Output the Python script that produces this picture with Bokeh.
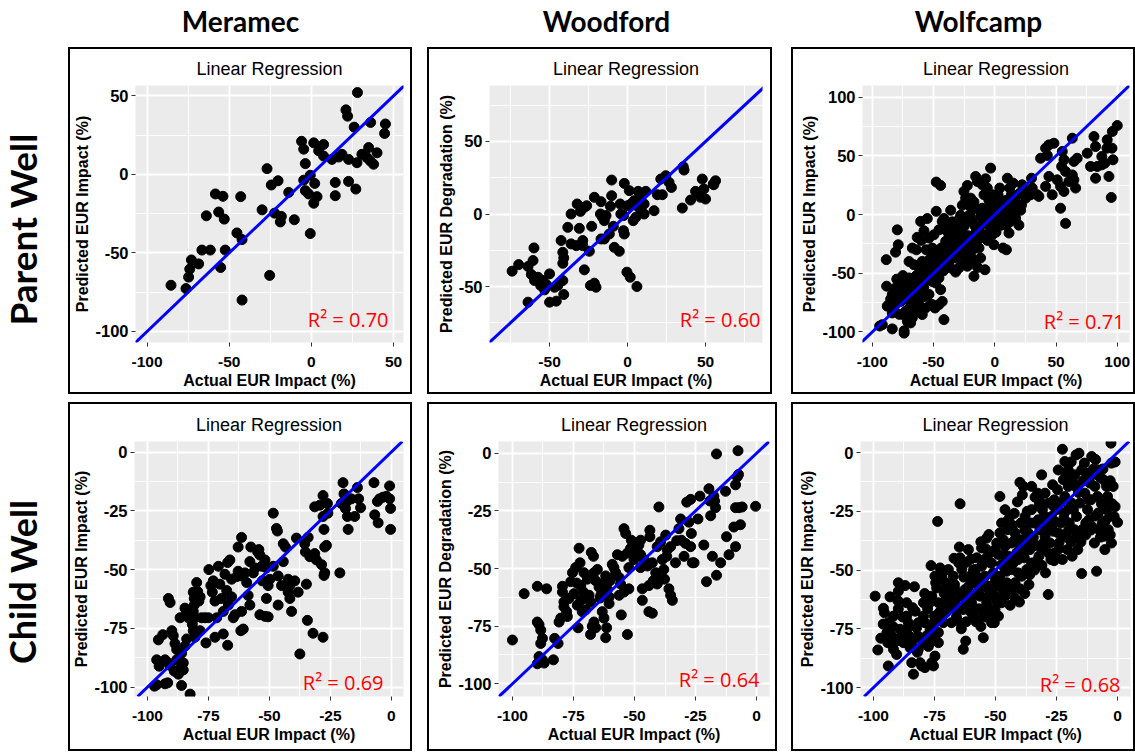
from bokeh.plotting import figure
from bokeh.layouts import row, column
from bokeh.models import Range1d, FixedTicker, Slope, Label, Spacer
from bokeh.embed import file_html
from bokeh.resources import INLINE

# ---------------- data (actual, predicted) ----------------
col_titles = ["Meramec", "Woodford", "Wolfcamp"]
row_titles = ["Parent Well", "Child Well"]
x_label = "Actual EUR Impact (%)"
y_labels = ["Predicted EUR Impact (%)", "Predicted EUR Degradation (%)", "Predicted EUR Impact (%)"]
r2_parent = ["0.70", "0.60", "0.71"]
r2_child = ["0.69", "0.64", "0.68"]

meramec_parent = [(28,52),(21,41),(22,37),(26,30),(36,33),(45,32),(44.5,26),(-6,21),(1.4,20),(-4.7,16),(7.4,19),(4.4,15),(7.4,11.6),(-3.7,6.8),(12.5,9.5),(16.6,11),(22.6,9.5),(34.8,17),(30.7,12.7),(33.8,10.6),(35.8,8.5),(39.9,13.7),(37.8,6.4),(27.7,7.4),(-0.7,-0.6),(-4.7,-3.7),(2,-5.8),(14.5,-5.2),(22.6,-4.5),(27,-9.4),(-3.7,-10.4),(-1.7,-12.5),(3.4,-14.2),(14.5,-13.6),(1.4,-18.4),(-0.7,-37.7),(-27,3.6),(-24.4,-6.8),(-20.3,-4.1),(-13.8,-11.5),(-30,-22.6),(-22.4,-24.7),(-18.3,-26.8),(-18.9,-30.3),(-10.4,-28.9),(-43,-14.2),(-58.4,-12.5),(-53.8,-14),(-56.4,-24),(-53,-28.5),(-63.9,-26.4),(-45.3,-37.3),(-42.2,-41.5),(-52.4,-48.2),(-61.5,-48.2),(-66.6,-48.2),(-73,-54.5),(-68.6,-57),(-74,-60.3),(-55.2,-59.3),(-74.7,-65.4),(-85.4,-70.6),(-76.3,-72.7),(-25.4,-64.3),(-42.2,-80),(18.6,12.7)]

woodford_parent = [(-74,-39.4),(-69.8,-34.9),(-60,-23.4),(-63.8,-36.2),(-60.6,-32.1),(-61.7,-41.7),(-57.4,-43.6),(-59.6,-45.9),(-54.3,-45.9),(-55.7,-49.3),(-52.1,-48.6),(-50,-41.3),(-53.2,-52.3),(-63.8,-60.8),(-50,-60.8),(-45.7,-60.1),(-46.8,-50.5),(-44.7,-49.3),(-41.5,-45.9),(-40.9,-55.5),(-42.6,-18.3),(-41.5,-26.4),(-40.9,-30.3),(-41.5,-34),(-38.3,-9.2),(-36.2,0),(-32.3,6.9),(-30.2,1.8),(-27.7,4.6),(-26.2,5.7),(-30.9,-9.9),(-36.2,-20.6),(-32.9,-21.8),(-28.7,-18.3),(-28.7,-21.8),(-24.5,-25.7),(-27.7,-38.5),(-23,-8.5),(-21.3,11.5),(-17,8.5),(-17.4,0),(-16,-2.3),(-13.8,-1.1),(-14.9,-4.6),(-14.9,-17.2),(-17,-17.2),(-11.7,-13.8),(-10.2,23.4),(-10.2,12.6),(-11,5.3),(-9.1,-8.5),(-8.5,-23),(-5.3,-25.7),(-4.3,0),(-4.7,6.9),(-2.6,-1.1),(-2.6,-11.5),(-2.1,-13.8),(-2.1,21.1),(1.1,16.1),(2.1,6.9),(4.3,9.2),(6,5.7),(5.3,-2.3),(8.5,2.3),(6.8,15.6),(11.7,15.6),(8.5,11.5),(10.6,6.9),(-0.4,-40.1),(1.7,-43.6),(6,-50),(-23.8,-49.3),(-20.2,-50.5),(-21.3,-47.7),(17,2.3),(19.1,13.3),(22.3,13.3),(21.3,24.1),(24.5,26.4),(26.6,21.8),(28.1,18.3),(35.7,32.6),(36.2,30.3),(35.1,4.1),(40.4,9.6),(43.6,15.6),(45.7,13.8),(47.9,24.1),(48.9,17.2),(46.8,11.5),(50,10.3),(55.3,20.2),(56.4,22.9),(54.9,20.6),(0,5.7),(10.6,0),(3.6,-4.6)]

wolfcamp_parent = [(-94,-95),(-83.7,-97.4),(-74,-99),(-74,-101),(-88.6,-38.4),(-88.3,-61),(-86.4,-76.7),(-82.3,-78),(-80,-68),(-79.6,-13),(-78.8,-25.7),(-81,-32),(-76.9,-74),(-75.5,-85),(-72.8,-82.4),(-71.4,-91),(-70,-68),(-68.7,-57),(-68.7,-92.3),(-67.3,-75.3),(-67.3,-28.5),(-64,-30),(-63.3,-19.4),(-62,-57),(-61,-64),(-59.2,-39.9),(-57.8,-13.8),(-56.5,-45.5),(-55.1,-3.4),(-53.7,-20),(-53.2,-44),(-51,-57),(-48.8,-79.6),(-53.7,-68),(-57.8,-57),(-62,-76.7),(-64.6,-69.6),(-56.5,-79.6),(-52.4,-76.7),(-45.6,-76.7),(-42.9,-74),(-41.5,-89.5),(-44.2,-64),(-45.6,-54),(-48.3,-58.3),(-47.8,2.8),(-47.8,27.7),(-44.2,24.8),(-43.7,-28.5),(-41.5,-34.2),(-40.1,-22.8),(-41.5,-3.4),(-40.1,-13),(-37.4,-17.2),(-36,3.7),(-34.7,-6.2),(-33.3,-28.5),(-32,-37),(-37.4,-39.9),(-36,-45.5),(-32,-49),(-29.3,-45.5),(-26.5,-42.7),(-30.6,-20),(-29.3,-11.5),(-27.9,-0.6),(-26.5,8),(-25.2,19.7),(-22.4,24.8),(-23.8,14),(-21.1,8),(-19.7,14),(-18.4,-6.2),(-17,-17.2),(-23.8,-28.5),(-23.8,-39.9),(-17,-52.6),(-15.6,-39.9),(-12.9,-28.5),(-11.6,-37),(-8,-47),(-14.3,-21.4),(-12.9,-11.5),(-11.6,-1.6),(-10.2,5.4),(-8.8,16.9),(-15.6,32.5),(-14.3,28.2),(-10.2,25.4),(-7.5,30.5),(-3.4,39.6),(-6.1,22.6),(-4.8,12.2),(-3.4,6.5),(-2,-0.6),(-2,-17.2),(-0.7,-25.7),(-3.4,-11.5),(0,8),(1.4,-6.2),(2.7,16.9),(4.1,22.6),(5.4,-9),(6.8,-28.5),(9.5,-30),(8.2,8),(9.5,12.2),(10.3,31),(12.2,22.6),(13.6,16.9),(15,5.4),(15,26.8),(11.6,-15.7),(19.7,-9),(21.1,3.7),(22.4,25.4),(25.2,14),(29.3,16.9),(30,31),(30.6,22.6),(34.7,16.9),(36,15.5),(37.4,48),(41.5,56.6),(44.2,59.4),(48.3,60.8),(42.9,50.4),(44.2,32.5),(41.5,24),(46.9,16.9),(51,29.6),(53.7,24),(55.1,53.8),(56.5,46.7),(54.6,41),(57.8,36.7),(56.5,19.7),(53.7,5.4),(57.8,-7.5),(60.5,28.2),(63.3,33.8),(64.6,29.6),(66,22.6),(64.6,45.3),(67.3,48),(63.3,65.1),(75.5,52.3),(78.2,41),(81,66.5),(82.3,58),(83.7,41),(82.3,31),(87.4,49.5),(87.4,42.4),(89.8,43.8),(91.6,56.6),(95.7,56.6),(96.5,46.7),(93.2,32.5),(95.1,14.6),(96,70.8),(100,75.9),(91.8,63.7),(-60.5,-5.8),(-51,-28.5),(-49.7,-17.2),(-45.6,-13),(-42.9,-5.8),(-38.8,-25.7),(-34.7,-17.2),(-32,-11.5),(-37.4,-31.4),(-41.5,-39.9),(-48.3,-39.9),(-45.6,-45.5),(-51,-35.6),(-29.3,-28.5),(-26.5,-22.8),(-21,-25.7),(-18.4,-28.5),(-19.7,-35.6),(-22.4,-44),(-66,-42.7),(-70,-54),(-74,-62.5),(-76.9,-58.3),(-81,-62.5),(-83.7,-68),(-87.8,-78),(-78,-85),(-67.3,-88),(-63.3,-82.4),(-59.2,-85.2),(-51,-76.7),(-83.7,-83.8),(-91.8,-93.8),(-23.8,-6.2),(-21,-0.6),(-15.6,5.1),(-17,10.8),(-8.8,-6.2),(-4.8,-6.2),(-8.8,-17.2),(-18.4,-23),(2.7,5.1),(6.8,-0.6),(-2,16.9),(13.6,-0.6),(16.3,12.2),(21.8,8),(12.2,-6.2),(9.5,-9),
                   (-85,-72),(-80,-75),(-77,-66),(-72,-72),(-70,-80),(-66,-62),(-64,-52),(-62,-45),(-60,-50),(-58,-62),(-55,-52),(-53,-38),(-50,-45),(-48,-50),(-46,-35),(-44,-40),(-42,-48),(-40,-33),(-38,-12),(-36,-22),(-34,-35),(-32,-25),(-30,-5),(-28,-15),(-27,-33),(-25,-10),(-22,-18),(-20,-2),(-18,-30),(-16,-10),(-14,-45),(-12,-20),(-10,-8),(-8,0),(-6,-22),(-4,5),(-1,10),(1,-15),(3,2),(5,12),(7,-3),(11,3),(17,-3),(20,18),(26,20),(-56,-30),(-60,-22),(-70,-40),(-75,-52),(-80,-55),(-66,-82),(-58,-70)]

meramec_child = [(-97.1,-99.6),(-96.2,-99),(-92.8,-98.6),(-91.7,-98.2),(-96.2,-88.4),(-94.8,-89.7),(-95.2,-91.1),(-92.8,-88.4),(-91.4,-89.7),(-90.7,-90.8),(-91.4,-62.3),(-90.7,-64),(-95.5,-79.9),(-93.7,-77.7),(-90,-76),(-89.4,-78.1),(-88.7,-81.5),(-88,-84),(-89,-93.2),(-87.3,-94.5),(-88,-88.4),(-86,-91.1),(-85.3,-92.7),(-85.3,-89.7),(-86,-99.3),(-82.5,-103),(-86.6,-70.5),(-86,-85.6),(-84.6,-82.6),(-83.9,-79.5),(-84.6,-66.4),(-83.9,-68.5),(-83.2,-70.5),(-82.1,-68.9),(-81.2,-59.6),(-80.8,-62.3),(-80.8,-65.1),(-81.2,-67.8),(-80.5,-70.5),(-79.8,-55.5),(-79.4,-59.3),(-78.9,-63.4),(-78.4,-61.6),(-81.6,-73.3),(-81.2,-76),(-80.5,-78.8),(-78.4,-76),(-77.8,-70.5),(-76.4,-70.5),(-75,-70.5),(-76,-81.2),(-74.8,-50),(-74,-56.8),(-73,-54.8),(-73.4,-59.6),(-72.3,-63.4),(-71.6,-70.5),(-72.3,-78.8),(-70.9,-48.6),(-70.3,-56.2),(-69.6,-62.3),(-68.9,-67.8),(-68.9,-77.4),(-68.2,-52),(-67.5,-58.9),(-67.1,-47),(-66.2,-45.9),(-66.8,-65.1),(-67.1,-82.2),(-65.5,-54.1),(-65.5,-61.6),(-64.8,-70.5),(-64.1,-69.2),(-63.4,-53),(-62.8,-50.7),(-62.8,-40.4),(-61.4,-36.3),(-61.4,-52.7),(-61.4,-67.8),(-60.7,-75.3),(-61.7,-76),(-60,-51.4),(-59.3,-55.5),(-58.7,-61),(-58,-65.1),(-58,-46.6),(-57.6,-40.4),(-56.6,-51.4),(-55.9,-49.3),(-54.8,-42.5),(-54.3,-41.5),(-53.9,-43.8),(-53.2,-48.6),(-52.9,-54.8),(-53.9,-69.2),(-51.8,-69.9),(-50.5,-70.1),(-51.2,-62.3),(-50.5,-56.8),(-49.8,-54.1),(-51.2,-49.3),(-51.8,-45.9),(-48.4,-26),(-47.1,-32.5),(-46.7,-33.6),(-48.4,-48.6),(-46.4,-52.7),(-46.4,-65.1),(-44.3,-39),(-43.4,-40.4),(-44.3,-46.6),(-45,-56.8),(-42.3,-54.1),(-41.6,-56.8),(-42.3,-59.6),(-41.6,-62.3),(-40.9,-67.8),(-39.6,-54.8),(-38.9,-36.6),(-38.2,-59.6),(-37.5,-85.9),(-35.5,-39),(-35.2,-42.5),(-34.8,-56.2),(-34.4,-71.6),(-34.1,-36.3),(-33.4,-44.5),(-32.1,-77.1),(-31.4,-43.2),(-30.7,-45.9),(-31.4,-23.3),(-29.3,-22.6),(-28.6,-47.9),(-28,-18.5),(-28,-27.4),(-27.6,-32.9),(-27.3,-40.4),(-27.3,-51.4),(-27.6,-52.5),(-26.6,-39.7),(-28,-78.8),(-26.2,-21.9),(-26,-26),(-21.1,-51.4),(-20.5,-21.9),(-19.8,-13),(-19.4,-17.8),(-18.4,-21.2),(-18.8,-24),(-18,-27.4),(-17.7,-32.9),(-16.4,-19.9),(-15,-27.4),(-13.9,-15.1),(-13.4,-19.9),(-12.6,-23.7),(-7.1,-13),(-6.8,-26.7),(-5.7,-21),(-5.4,-30.1),(-4.8,-19.9),(-3.4,-19.2),(-2,-18.8),(-0.7,-14.4),(-0.7,-19.9),(-0.3,-24),(-0.3,-32.9)]

woodford_child = [(-100,-81),(-95.2,-60.9),(-89.8,-57.7),(-86,-58.8),(-89.8,-73.2),(-89.1,-74.3),(-88.4,-76.7),(-87.7,-80.3),(-88.4,-82.5),(-89.1,-88.2),(-89.8,-91.3),(-87,-91),(-87.7,-89.6),(-83.2,-89.6),(-82.7,-80.3),(-81.3,-82.5),(-80.9,-73.2),(-80.2,-71.5),(-79.5,-57.7),(-79.5,-60.2),(-78.9,-64.5),(-78.9,-66.6),(-77.8,-68.7),(-77.5,-70.8),(-76.8,-63),(-76.1,-55.7),(-75.4,-51.8),(-74.8,-60.9),(-74.1,-49.6),(-73.7,-56.3),(-73.4,-65.9),(-73.1,-75.7),(-72.7,-41.2),(-72.3,-47.5),(-72,-57.4),(-72,-63.8),(-71.4,-68.7),(-70.9,-60.2),(-70.7,-63),(-70,-67.9),(-69.3,-54.6),(-68.6,-61.6),(-68,-64.5),(-67.7,-43),(-66.8,-44.7),(-68,-78.6),(-67.3,-75),(-66.6,-73.2),(-65.9,-75.7),(-65.9,-55.3),(-65.2,-50.4),(-64.5,-58.1),(-64.1,-62.8),(-63.2,-68.7),(-63.8,-56.7),(-62.5,-71.5),(-61.8,-80),(-61.4,-75.7),(-61.1,-59.1),(-60.4,-62.3),(-60.4,-65.2),(-61.8,-53.2),(-60,-55.3),(-59.1,-48.2),(-58.4,-49.6),(-57.7,-51.8),(-56.3,-53.9),(-57,-44),(-55.7,-56.7),(-55.4,-70.1),(-55,-44.7),(-54.3,-32.7),(-53.6,-34.8),(-52.9,-78.6),(-52.9,-43.3),(-52.3,-58.8),(-51.6,-41.2),(-50.9,-43.3),(-50.2,-46.1),(-49.5,-40.5),(-48.8,-42.6),(-48.2,-39.8),(-47.5,-44),(-47.5,-49.6),(-46.8,-58.8),(-46.8,-63.8),(-44.1,-57.4),(-44.1,-68.7),(-42.7,-69.4),(-43.7,-33.4),(-43.7,-36.2),(-42.7,-47.5),(-42.3,-55.3),(-41.3,-51.8),(-40.7,-56.7),(-40.7,-40.5),(-40,-23.3),(-39.3,-38.4),(-38.6,-46.1),(-38,-50.4),(-37.7,-54.6),(-36.8,-44.7),(-37.2,-35.5),(-36.6,-41.9),(-35.9,-58.8),(-35.2,-61.6),(-34.5,-63.8),(-35.2,-40.5),(-33.2,-47.5),(-32.7,-37.9),(-31.8,-32.7),(-31.1,-28.5),(-30.8,-37.7),(-29.7,-44.7),(-29.1,-39.1),(-28.6,-21.2),(-27,-20),(-27.7,-29.9),(-27,-40.5),(-26.3,-47.5),(-25.6,-47.5),(-26.7,-34.8),(-24,-28.5),(-23.2,-18.6),(-21.6,-39.8),(-20.5,-55.7),(-19.5,-15.4),(-19.1,-20.7),(-18.8,-27.1),(-18.1,-44.7),(-17.5,-18.6),(-17.2,-20.7),(-16.8,-23.6),(-16.4,-52.9),(-16.4,-0.3),(-14.7,-47.5),(-12.7,-16.5),(-12.3,-36.2),(-11.3,-44),(-8.6,-13.7),(-7.9,-10.2),(-7.6,1.1),(-8.6,-23.6),(-9.3,-32),(-8.6,-40.5),(-7.2,-23.6),(-6.6,-31),(-5.9,-23.3),(-0.4,-23),(-7.4,-9.2),(-70.7,-51.8),(-66.6,-51.8),(-63.8,-61.6),(-60.4,-54.6),(-56.3,-61.6),(-54.3,-60.2),(-52.3,-49.6),(-51.3,-37.7),(-46.1,-46.1),(-44.7,-48.9),(-39.3,-54.6),(-47.5,-37.7)]

wolfcamp_child = [(-99.3,-61.1),(-98.2,-84),(-95.9,-66.3),(-95.5,-68.2),(-94.5,-76.7),(-94.1,-80.9),(-93.9,-72.4),(-93.9,-90.8),(-93.2,-61.4),(-92.5,-78),(-91.8,-83.7),(-91.1,-80.6),(-90.5,-85.9),(-89.8,-55.4),(-89.8,-59),(-89.1,-75.2),(-88.4,-78),(-87.7,-80.9),(-87,-56.6),(-86.4,-63.9),(-86.4,-69.6),(-85.7,-72.4),(-85.4,-78),(-85,-83),(-84.3,-89.4),(-83.6,-94.3),(-83.2,-57.1),(-82.9,-67.5),(-82.3,-74.5),(-81.9,-78),(-81.6,-83.7),(-80.9,-89.4),(-80.2,-90.8),(-79.5,-69.6),(-79.5,-63.9),(-78.9,-72.4),(-78.9,-91.5),(-78.2,-78),(-77.8,-66.5),(-77.5,-82.5),(-76.8,-80.9),(-76.8,-75.2),(-76.4,-48.1),(-76.1,-61.1),(-76.1,-89.4),(-75.4,-90.8),(-75,-69.6),(-74.8,-52.6),(-74.5,-55.4),(-74.1,-57.6),(-73.7,-29.3),(-73.4,-63.9),(-73.4,-76.6),(-72.7,-49.1),(-72,-52.6),(-72,-71),(-71.4,-63.9),(-70.7,-58.3),(-70.4,-55.4),(-70,-67.5),(-69.3,-49.8),(-68.6,-61.1),(-68,-72.4),(-67.3,-52.6),(-66.8,-56.2),(-66.6,-63.9),(-65.9,-67.5),(-65.2,-71.8),(-64.8,-40.2),(-64.5,-21.8),(-64.5,-44.8),(-63.8,-49.8),(-63.2,-83.7),(-62.5,-58.3),(-62.2,-80.2),(-61.8,-46.7),(-61.1,-41.3),(-60.4,-52.6),(-60,-45.3),(-59.8,-63.9),(-59.8,-55.4),(-59.1,-61.1),(-59.1,-69.6),(-58.4,-49.8),(-57.7,-44.8),(-57,-56.2),(-56.8,-66.5),(-56.3,-61.1),(-55.7,-40.6),(-55,-78.8),(-54.6,-45.5),(-54.3,-52.6),(-53.6,-63.9),(-53.6,-36.4),(-52.9,-69.6),(-52.7,-34.9),(-52.3,-56.9),(-51.6,-66.8),(-51.6,-47),(-50.9,-51.2),(-50.5,-72.4),(-50.2,-41.3),(-49.9,-61.1),(-49.5,-63.2),(-48.8,-43.4),(-48.8,-54.7),(-48.2,-18.7),(-48.2,-34.2),(-47.5,-30),(-47.5,-47.7),(-46.8,-37.1),(-46.8,-58.3),(-46.1,-24.3),(-46.1,-39.9),(-45.4,-50.5),(-45,-32.8),(-44.7,-44.1),(-44.1,-27.2),(-44.1,-56.2),(-43.4,-38.5),(-42.7,-47),(-42.3,-25.9),(-42,-34.2),(-41.3,-42.7),(-40.7,-51.2),(-40.2,-63.6),(-40,-12.7),(-39.6,-30),(-39.3,-37.1),(-38.6,-14.4),(-38.2,-44.8),(-37.9,-27.2),(-37.7,-38.5),(-37.2,-49.8),(-36.6,-34.2),(-36.3,-56.2),(-35.9,-41.3),(-35.5,-30),(-35.2,-24.3),(-35.2,-47),(-34.5,-36.1),(-33.8,-19),(-33.2,-39.6),(-32.7,-17.3),(-32.5,-28.6),(-32.2,-44.1),(-31.8,-32.8),(-31.1,-9.5),(-30.8,-24.3),(-30.4,-41.3),(-29.7,-35.6),(-29.5,-51.2),(-29.1,-30),(-28.4,-60.4),(-28.1,-21.5),(-27.7,-38.5),(-27.3,-45.5),(-27,-27.2),(-26.6,-13.7),(-26.3,-33.5),(-25.9,-20.1),(-25.6,-42.7),(-25.4,-29.6),(-25,-24.3),(-24.6,-15.8),(-24.3,-34.2),(-24,-38.5),(-23.6,-21.5),(-23.2,-30),(-22.6,1.4),(-22.6,-45.5),(-22.2,-11.6),(-21.8,-25.7),(-21.6,-3.8),(-21.6,-18.7),(-20.9,-36.1),(-20.5,-41.3),(-20.2,-14.4),(-19.8,-30),(-19.1,-9.5),(-18.8,-21.5),(-18.6,-44.1),(-18.1,-24.3),(-17.7,-32.8),(-17.2,-14.4),(-16.8,-27.2),(-16.3,-41.3),(-15.8,-0.3),(-15.4,-21.5),(-14.7,-51.5),(-14.5,-32.8),(-13.6,-4.5),(-13.4,-17.3),(-13.1,-35.1),(-12.7,-8.8),(-12.3,-24.3),(-11.7,-28.6),(-11.3,-13),(-10.9,-20.1),(-10.6,-31.4),(-10,-7.1),(-9.5,-38.5),(-9.3,-14.4),(-8.6,-50.5),(-8.2,-18.7),(-7.9,-25.7),(-7.6,-32.8),(-7.2,-10.5),(-6.6,-21.8),(-6.3,-30.3),(-5.9,-11.5),(-5.5,-35.6),(-5.2,-41.3),(-4.5,-24.3),(-4.1,-18.7),(-3.8,-32.8),(-3.1,-27.2),(-2.7,4),(-2.5,-4.5),(-2.2,-21.8),(-1.8,-14.4),(-1.4,-27.2),(0,-29.7),(-58.4,-66.8),(-57,-71),(-55,-67.5),(-52.9,-61.1),(-51.6,-58.3),(-50.2,-66.8),(-48.8,-69.6),(-47.5,-63.9),(-51.6,-72.4),(-48.2,-52.6),(-45.4,-55.4),(-43.4,-58.3),(-42,-55.4),(-39.3,-52.6),(-37.9,-41.3),(-40.7,-45.5),(-43.4,-49.8),(-46.1,-44.1),(-49.5,-38.5),(-52.3,-42.7),(-55.7,-48.4),(-57.7,-52.6),(-61.1,-61.1),(-63.2,-66.8),(-64.5,-61.1),(-66.6,-58.3),(-69.3,-66.8),(-71.4,-72.4),(-73.4,-80.9),(-74.8,-86.6),(-76.1,-78),(-78.9,-80.9),(-81.6,-72.4),(-84.3,-80.9),(-86.4,-75.2),(-89.8,-66.5),(-91.8,-69.6),(-35.2,-14.4),(-31.8,-20.8),(-29.7,-17.3),(-24.3,-7.4),(-20.2,-7.4),(-17.5,-9.5),(-14.7,-7.4),(-10.6,-1.7),(-7.9,-7.4),(-4.5,-14.4),(-3.1,-21.5),(-2.5,-38.5),
                  (-79,-60),(-77,-64),(-75,-72),(-73,-68),(-71,-60),(-69,-57),(-68,-64),(-66,-70),(-64,-75),(-62,-72),(-60,-68),(-58,-72),(-56,-74),(-54,-70),(-53,-58),(-55,-55),(-57,-59),(-59,-50),(-61,-57),(-63,-53),(-65,-47),(-67,-45),(-62,-64),(-46,-61),(-44,-65),(-42,-62),(-40,-58),(-38,-60),(-36,-52),(-34,-50),(-33,-46),(-31,-48),(-30,-38),(-28,-43),(-26,-46),(-24,-41),(-22,-35),(-20,-33),(-19,-38),(-17,-36),(-15,-38),(-13,-30),(-11,-33),(-9,-27),(-7,-36),(-5,-29),(-3,-35),(-1,-23),(-12,-20),(-14,-12),(-16,-17),(-18,-13),(-20,-24),(-22,-28),(-26,-23),(-28,-32),(-30,-27),(-32,-22),(-34,-30),(-36,-39),(-38,-33),(-40,-41),(-42,-37),(-44,-46),(-46,-50),(-48,-57),(-50,-54),(-52,-47),(-54,-41),(-56,-38),(-45,-29),(-43,-31),(-41,-21),(-39,-18),(-37,-25),(-84,-66),(-82,-85),(-80,-80),(-88,-70),(-90,-63),(-92,-74),(-96,-73),(-97,-79),(-21,-10),(-19,-4),(-17,-1),(-11,-10),(-9,-3),(-6,-7),(-3,-12),(-1,-4)]

# axis tick positions per panel
ticks_a = [-100, -50, 0, 50]
minor_a = [-75, -25, 25]
ticks_b = [-50, 0, 50]
minor_b = [-75, -25, 25, 75]
ticks_c = [-100, -50, 0, 50, 100]
minor_c = [-75, -25, 25, 75]
ticks_d = [-100, -75, -50, -25, 0]
minor_d = [-87.5, -62.5, -37.5, -12.5]

FONT = "Liberation Sans"
BW = 2  # box border width (px)


def panel(pairs, xr, yr, xt, xm, yt, ym, ylab, r2, w, h, ml, mr, mt, mb, r2dx, r2dy):
    xs = [a for a, b in pairs]
    ys = [b for a, b in pairs]
    # canvas is w x h, starting inside the CSS border; right/bottom BW px hidden
    p = figure(width=w, height=h,
               x_range=Range1d(*xr), y_range=Range1d(*yr),
               output_backend="svg", toolbar_location=None,
               min_border_left=ml - BW, min_border_right=mr + BW,
               min_border_top=mt - BW, min_border_bottom=mb + BW,
               title="Linear Regression",
               styles={"border": "%dpx solid black" % BW})
    p.background_fill_color = "#EBEBEB"
    p.border_fill_color = "white"
    p.outline_line_color = None
    p.title.align = "center"
    p.title.text_font = FONT
    p.title.text_font_style = "normal"
    p.title.text_font_size = "18px"
    p.title.text_color = "black"
    p.title.standoff = 14
    p.xaxis.ticker = FixedTicker(ticks=xt, minor_ticks=xm)
    p.yaxis.ticker = FixedTicker(ticks=yt, minor_ticks=ym)
    p.xaxis.major_label_overrides = {t: str(t) for t in xt}
    p.yaxis.major_label_overrides = {t: str(t) for t in yt}
    for ax in (p.xaxis[0], p.yaxis[0]):
        ax.axis_line_color = None
        ax.major_tick_line_color = "#333333"
        ax.major_tick_in = 0
        ax.major_tick_out = 4
        ax.minor_tick_line_color = None
        ax.major_label_text_font = FONT
        ax.major_label_text_font_style = "bold"
        ax.major_label_text_color = "black"
        ax.axis_label_text_font = FONT
        ax.axis_label_text_font_style = "bold"
        ax.axis_label_text_font_size = "16px"
        ax.axis_label_text_color = "black"
    p.xaxis.major_label_text_font_size = "15.5px"
    p.yaxis.major_label_text_font_size = "16.5px"
    p.xaxis.axis_label = x_label
    p.yaxis.axis_label = ylab
    p.xaxis.major_label_standoff = 10
    p.yaxis.major_label_standoff = 3
    p.xaxis.axis_label_standoff = 2
    p.yaxis.axis_label_standoff = 1
    for g in (p.xgrid[0], p.ygrid[0]):
        g.grid_line_color = "white"
        g.grid_line_width = 1.8
        g.minor_grid_line_color = "white"
        g.minor_grid_line_width = 0.9
    p.scatter(xs, ys, size=10, color="black", line_color="black")
    p.add_layout(Slope(gradient=1, y_intercept=0, line_color="#0000FF", line_width=3))
    fw = (w - ml - mr)
    fh = (h - mt - mb)
    lx = xr[1] - r2dx * (xr[1] - xr[0]) / fw
    ly = yr[0] + r2dy * (yr[1] - yr[0]) / fh
    p.add_layout(Label(x=lx, y=ly, text="R² = " + r2, text_align="right",
                       text_baseline="alphabetic", text_color="#FF0000",
                       text_font="Open Sans", text_font_size="20px"))
    return p


def text_strip(w, h, items, angle=0, size="28px"):
    f = figure(width=w, height=h, x_range=Range1d(0, w), y_range=Range1d(0, h),
               output_backend="svg", toolbar_location=None, min_border=0,
               x_axis_type=None, y_axis_type=None, outline_line_color=None)
    f.xgrid.grid_line_color = None
    f.ygrid.grid_line_color = None
    f.background_fill_color = "white"
    f.border_fill_color = "white"
    for (tx, ty, t) in items:
        f.add_layout(Label(x=tx, y=ty, text=t, angle=angle, text_align="center",
                           text_baseline="middle", text_font="Lato",
                           text_font_style="bold", text_font_size=size,
                           text_color="black"))
    return f


header = text_strip(1135, 47, [(240, 27, col_titles[0]), (606, 27, col_titles[1]), (978, 27, col_titles[2])], size="28px")

p1 = panel(meramec_parent, (-107, 56), (-107, 56.5), ticks_a, minor_a, ticks_a, minor_a, y_labels[0], r2_parent[0], 344, 347, 67, 9, 37, 50, 15, 23)
p2 = panel(woodford_parent, (-88.5, 86.5), (-88.6, 88.6), ticks_b, minor_b, ticks_b, minor_b, y_labels[1], r2_parent[1], 345, 347, 62, 10, 38, 52, 2, 23)
p3 = panel(wolfcamp_parent, (-108, 110), (-109, 110), ticks_c, minor_c, ticks_c, minor_c, y_labels[2], r2_parent[2], 344, 347, 71, 6, 37, 52, 5, 21)
p4 = panel(meramec_child, (-105.3, 5), (-104, 4.5), ticks_d, minor_d, ticks_d, minor_d, y_labels[0], r2_child[0], 344, 349, 66, 9, 37, 47, 20, 15)
p5 = panel(woodford_child, (-105.7, 5.3), (-105.5, 5.1), ticks_d, minor_d, ticks_d, minor_d, y_labels[1], r2_child[1], 350, 349, 71, 8, 39, 49, 10, 17)
p6 = panel(wolfcamp_child, (-105.3, 5.3), (-103.8, 4.7), ticks_d, minor_d, ticks_d, minor_d, y_labels[2], r2_child[2], 344, 349, 69, 5, 38, 55, 10, 12)

lab1 = text_strip(68, 347, [(22, 150, row_titles[0])], angle=1.5707963, size="37px")
lab2 = text_strip(68, 349, [(22, 154, row_titles[1])], angle=1.5707963, size="36px")

row1 = row(lab1, p1, Spacer(width=15), p2, Spacer(width=19), p3, spacing=0)
row2 = row(lab2, p4, Spacer(width=15), p5, Spacer(width=14), p6, spacing=0)
layout = column(header, row1, Spacer(height=8), row2, spacing=0)

open("out.html", "w").write(file_html(layout, INLINE))
